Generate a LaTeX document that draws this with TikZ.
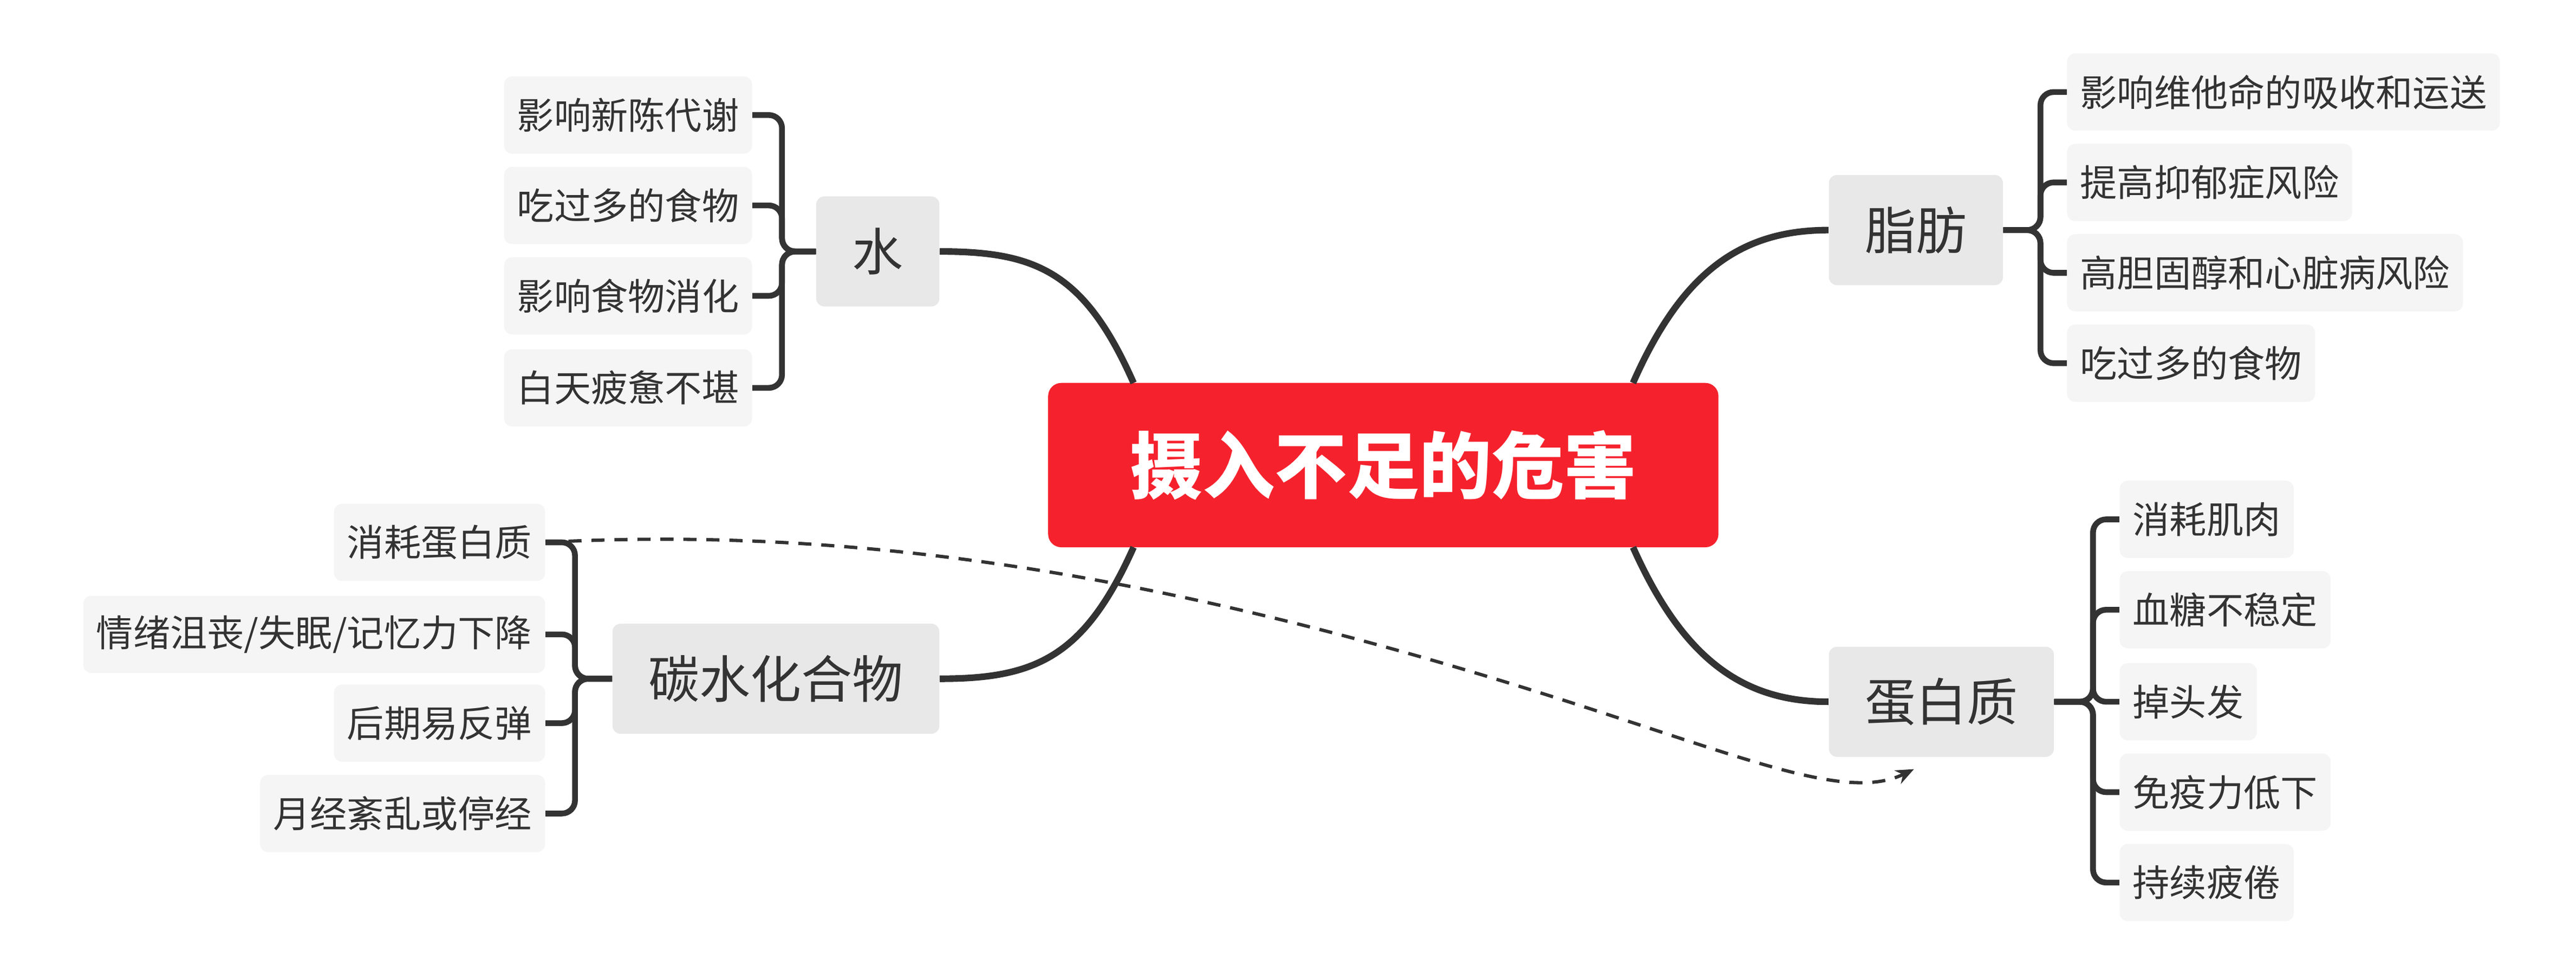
\documentclass[tikz,border=0pt]{standalone}
\usepackage{fontspec}
\newfontfamily\cjk{Noto Sans CJK SC}
\usetikzlibrary{arrows.meta}
\definecolor{lnk}{HTML}{333333}
\definecolor{leafbg}{HTML}{F5F5F5}
\definecolor{brbg}{HTML}{E8E8E8}
\definecolor{ctr}{HTML}{F5222D}
\begin{document}
\begin{tikzpicture}[x=1pt,y=-1pt,
  leaf/.style={fill=leafbg,rounded corners=5pt,minimum height=47pt,inner xsep=8pt,font=\cjk\fontsize{22.5}{26}\selectfont,text=lnk},
  br/.style={fill=brbg,rounded corners=5pt,minimum height=67pt,inner xsep=22pt,font=\cjk\fontsize{31}{36}\selectfont,text=lnk},
  con/.style={draw=lnk,line width=4pt},
  brk/.style={draw=lnk,line width=3.5pt,rounded corners=8pt}]
\useasboundingbox (0,0) rectangle (1568,595);
\node[fill=ctr,rounded corners=8pt,minimum width=408pt,minimum height=100pt,text=white,font=\cjk\bfseries\fontsize{44}{50}\selectfont] (c) at (842,283) {摄入不足的危害};
% branches
\node[br,anchor=east] (w) at (572,153) {水};
\node[br,anchor=west] (f) at (1113,140) {脂肪};
\node[br,anchor=east] (t) at (572,413) {碳水化合物};
\node[br,anchor=west] (p) at (1113,427) {蛋白质};
% center connectors
\draw[con] (690,233) .. controls (660,165) and (630,153) .. (w.east);
\draw[con] (994,233) .. controls (1024,165) and (1060,140) .. (f.west);
\draw[con] (690,333) .. controls (660,400) and (630,413) .. (t.east);
\draw[con] (994,333) .. controls (1024,400) and (1060,427) .. (p.west);
% water leaves
\foreach \n/\y/\s in {w1/70/影响新陈代谢,w2/125/吃过多的食物,w3/180/影响食物消化,w4/236/白天疲惫不堪}{
  \node[leaf,anchor=east] (\n) at (458,\y) {\s};
  \draw[brk] (w.west) -- (476,153) |- (\n.east);}
% fat leaves
\foreach \n/\y/\s in {f1/56/影响维他命的吸收和运送,f2/111/提高抑郁症风险,f3/166/高胆固醇和心脏病风险,f4/221/吃过多的食物}{
  \node[leaf,anchor=west] (\n) at (1258,\y) {\s};
  \draw[brk] (f.east) -- (1242,140) |- (\n.west);}
% carb leaves
\foreach \n/\y/\s in {t1/330/{消耗蛋白质},t2/386/{情绪沮丧/失眠/记忆力下降},t3/440/{后期易反弹},t4/495/{月经紊乱或停经}}{
  \node[leaf,anchor=east] (\n) at (332,\y) {\s};
  \draw[brk] (t.west) -- (350,413) |- (\n.east);}
% protein leaves
\foreach \n/\y/\s in {p1/316/消耗肌肉,p2/371/血糖不稳定,p3/427/掉头发,p4/482/免疫力低下,p5/537/持续疲倦}{
  \node[leaf,anchor=west] (\n) at (1290,\y) {\s};
  \draw[brk] (p.east) -- (1274,427) |- (\n.west);}
\coordinate (pe) at (1165,468);
\draw[lnk,line width=2pt,dash pattern=on 8pt off 6pt,-{Stealth[length=11pt,width=9pt]}] (t1.east) .. controls (520,320) and (700,350) .. (900,410) .. controls (1050,455) and (1120,490) .. (pe);
\end{tikzpicture}
\end{document}
